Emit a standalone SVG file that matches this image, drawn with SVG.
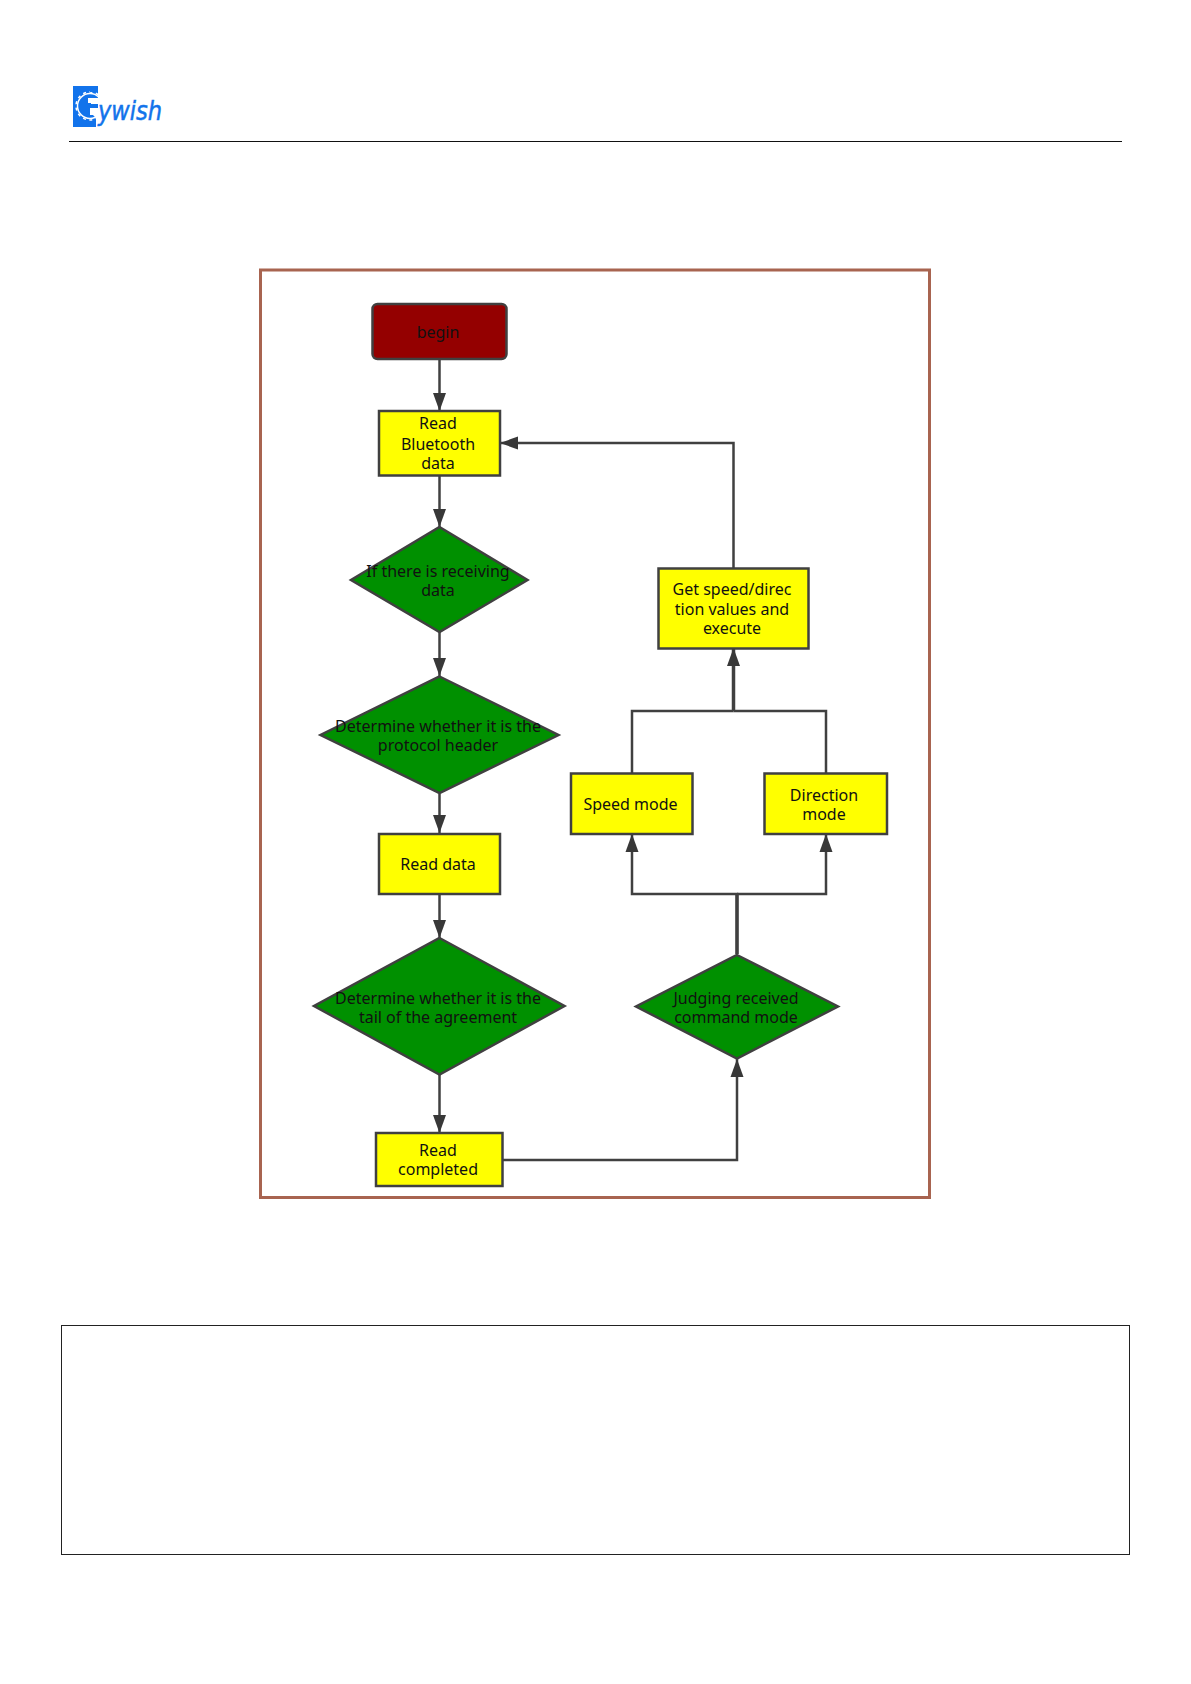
<svg xmlns="http://www.w3.org/2000/svg" width="1191" height="1684" viewBox="0 0 1191 1684">
<style>
.box{fill:#ffff00;stroke:#404040;stroke-width:2.5}
.dia{fill:#009000;stroke:#404040;stroke-width:2.5}
.con{fill:none;stroke:#404040;stroke-width:2.5}
.thick{stroke-width:3.5}
.t{font-family:"Noto Sans","Open Sans",sans-serif;font-size:16px;fill:#111;text-anchor:middle}
</style>
<defs>
<marker id="arr" markerUnits="userSpaceOnUse" markerWidth="18" markerHeight="14" refX="18" refY="7" orient="auto"><path d="M0 0.500 L18 7 L0 13.500 Z" fill="#383838"/></marker>
</defs>
<rect width="1191" height="1684" fill="#fff"/>
<g id="logo">
<path d="M73 86 H98 V100 H91 V104 H98 V108 H91 V113 L96 118 V127 H73 Z" fill="#1273eb"/>
<rect x="88" y="98" width="10" height="5" fill="#fff"/>
<rect x="90" y="108" width="8" height="7" fill="#fff"/>
<circle cx="90" cy="106" r="12.500" fill="none" stroke="#fff" stroke-width="1.500"/>
<circle cx="90" cy="106" r="14" fill="none" stroke="#fff" stroke-width="1.500" stroke-dasharray="3 3.500"/>
<path d="M90 92 H98 V86 H90 Z" fill="#1273eb"/>
<rect x="87" y="104" width="11" height="3.500" fill="#1273eb"/>
<text x="98" y="120" font-family="'DejaVu Sans',sans-serif" font-size="26" font-style="italic" font-weight="500" fill="#1273eb" stroke="#1273eb" stroke-width="0.500" textLength="64" lengthAdjust="spacingAndGlyphs">ywish</text>
</g>
<line id="header-rule" x1="69" y1="141.500" x2="1122" y2="141.500" stroke="#111" stroke-width="1"/>
<rect id="frame" x="260.500" y="270" width="669" height="927.500" fill="#fff" stroke="#a86450" stroke-width="3"/>
<rect id="note-box" x="61.500" y="1325.500" width="1068" height="229" fill="#fff" stroke="#222" stroke-width="1"/>
<g id="connectors" class="connectors">
<path class="con" d="M439.500 359 V411" marker-end="url(#arr)"/>
<path class="con" d="M439.500 476 V527" marker-end="url(#arr)"/>
<path class="con" d="M439.500 632 V676" marker-end="url(#arr)"/>
<path class="con" d="M439.500 794 V833" marker-end="url(#arr)"/>
<path class="con" d="M439.500 894 V938" marker-end="url(#arr)"/>
<path class="con" d="M439.500 1075 V1133" marker-end="url(#arr)"/>
<path class="con" d="M503 1160 H737 V1059" marker-end="url(#arr)"/>
<path class="con" d="M737 954 V894 H632 V834" marker-end="url(#arr)"/>
<path class="con" d="M737 894 H826 V834" marker-end="url(#arr)"/>
<path class="con" d="M632 773 V711 H733.500"/>
<path class="con" d="M826 773 V711 H733.500"/>
<path class="con thick" d="M733.500 711 V648" marker-end="url(#arr)"/>
<path class="con thick" d="M737 954 V894"/>
<path class="con" d="M733.500 568 V443 H500" marker-end="url(#arr)"/>
</g>
<g id="n-begin"><rect x="372.500" y="304" width="134" height="55" rx="5" fill="#940000" stroke="#404040" stroke-width="2.500"/><text class="t" x="438" y="338">begin</text></g>
<g id="n-read-bt"><rect class="box" x="379" y="411" width="121" height="64.500"/><text class="t" x="438" y="429">Read</text><text class="t" x="438" y="449.500">Bluetooth</text><text class="t" x="438" y="469">data</text></g>
<g id="n-if"><path class="dia" d="M439.500 527 L527.500 580 L439.500 632 L351 580 Z"/><text class="t" x="438" y="577">If there is receiving</text><text class="t" x="438" y="596">data</text></g>
<g id="n-header"><path class="dia" d="M439.500 676.500 L558.500 735 L439.500 793 L320.500 735 Z"/><text class="t" x="438" y="732">Determine whether it is the</text><text class="t" x="438" y="751">protocol header</text></g>
<g id="n-read-data"><rect class="box" x="379" y="834" width="121" height="60"/><text class="t" x="438" y="870">Read data</text></g>
<g id="n-tail"><path class="dia" d="M439.500 938 L564.500 1006 L439.500 1074.500 L314 1006 Z"/><text class="t" x="438" y="1004">Determine whether it is the</text><text class="t" x="438" y="1023">tail of the agreement</text></g>
<g id="n-completed"><rect class="box" x="376" y="1133" width="126.500" height="53"/><text class="t" x="438" y="1156">Read</text><text class="t" x="438" y="1175">completed</text></g>
<g id="n-judge"><path class="dia" d="M737 955 L838 1006.500 L737 1058.500 L636 1006.500 Z"/><text class="t" x="736" y="1004">Judging received</text><text class="t" x="736" y="1023">command mode</text></g>
<g id="n-speed"><rect class="box" x="571" y="773.500" width="121.500" height="60.500"/><text class="t" x="630.500" y="810">Speed mode</text></g>
<g id="n-direction"><rect class="box" x="764.500" y="773.500" width="122.500" height="60.500"/><text class="t" x="824" y="800.500">Direction</text><text class="t" x="824" y="819.500">mode</text></g>
<g id="n-execute"><rect class="box" x="658.500" y="568.500" width="150" height="80"/><text class="t" x="732" y="595">Get speed/direc</text><text class="t" x="732" y="614.500">tion values and</text><text class="t" x="732" y="634">execute</text></g>
</svg>
